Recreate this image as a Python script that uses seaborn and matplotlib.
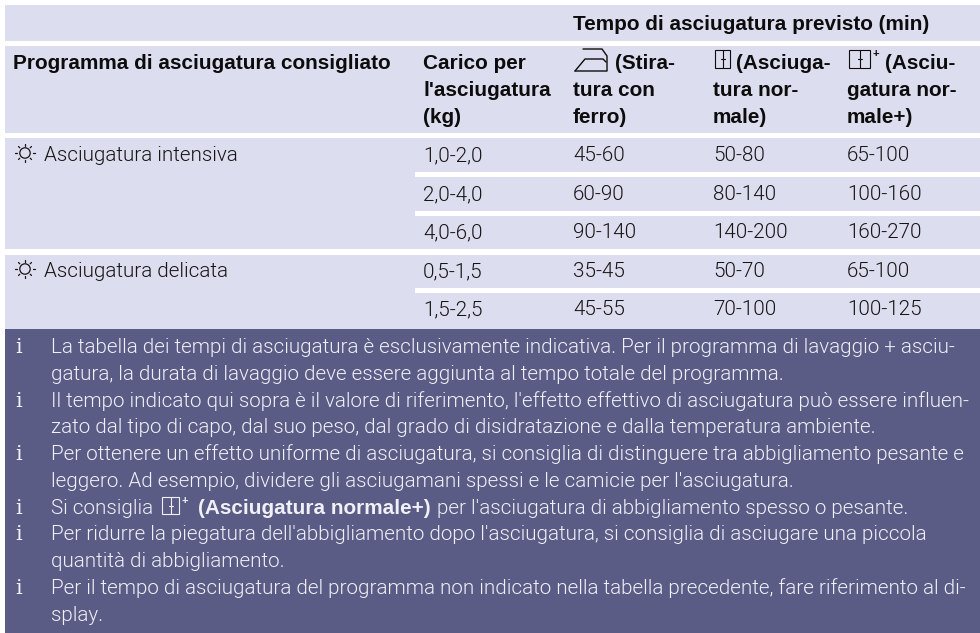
import matplotlib
matplotlib.use("Agg")
import matplotlib.pyplot as plt
from matplotlib.patches import Circle, Rectangle
import seaborn as sns

# table content
top_header = "Tempo di asciugatura previsto (min)"
program_header = "Programma di asciugatura consigliato"
load_header = ["Carico per", "l'asciugatura", "(kg)"]
iron_header = ["(Stira-", "tura con", "ferro)"]
normal_header = ["(Asciuga-", "tura nor-", "male)"]
plus_header = ["(Asciu-", "gatura nor-", "male+)"]

programs = ["Asciugatura intensiva", "", "", "Asciugatura delicata", ""]
loads = ["1,0-2,0", "2,0-4,0", "4,0-6,0", "0,5-1,5", "1,5-2,5"]
iron_times = ["45-60", "60-90", "90-140", "35-45", "45-55"]
normal_times = ["50-80", "80-140", "140-200", "50-70", "70-100"]
plus_times = ["65-100", "100-160", "160-270", "65-100", "100-125"]

notes = [
    ("i", "La tabella dei tempi di asciugatura è esclusivamente indicativa. Per il programma di lavaggio + asciu-"),
    ("", "gatura, la durata di lavaggio deve essere aggiunta al tempo totale del programma."),
    ("i", "Il tempo indicato qui sopra è il valore di riferimento, l'effetto effettivo di asciugatura può essere influen-"),
    ("", "zato dal tipo di capo, dal suo peso, dal grado di disidratazione e dalla temperatura ambiente."),
    ("i", "Per ottenere un effetto uniforme di asciugatura, si consiglia di distinguere tra abbigliamento pesante e"),
    ("", "leggero. Ad esempio, dividere gli asciugamani spessi e le camicie per l'asciugatura."),
    ("i", None),
    ("i", "Per ridurre la piegatura dell'abbigliamento dopo l'asciugatura, si consiglia di asciugare una piccola"),
    ("", "quantità di abbigliamento."),
    ("i", "Per il tempo di asciugatura del programma non indicato nella tabella precedente, fare riferimento al di-"),
    ("", "splay."),
]
note_special = ["Si consiglia", "(Asciugatura normale+)", "per l'asciugatura di abbigliamento spesso o pesante."]

LIGHT = "#dcddee"
DARK = "#5a5c86"
INK = "#151515"
HEAD_INK = "#0c0c0c"
NOTE_TEXT = "#f0f0f6"
BOLD_FONT = "Liberation Sans"
BODY_FONT = "Roboto"
BODY_SIZE = 14.9
HEAD_SIZE = 14.95

col_x = [423, 573, 713, 847]
row_base = [161, 200, 238, 277, 315]
note_base = [353, 380, 407, 433, 460, 487, 514, 540, 567, 594, 621]

sns.set_theme(style="white")
plt.rcParams["font.family"] = [BODY_FONT, "DejaVu Sans"]

fig = plt.figure(figsize=(9.8, 6.33), dpi=100)
ax = fig.add_axes([0, 0, 1, 1])
ax.set_xlim(0, 980)
ax.set_ylim(633, 0)
ax.axis("off")


def band(x0, x1, y0, y1, color):
    ax.add_patch(Rectangle((x0, y0), x1 - x0, y1 - y0, fc=color, ec="none"))


def sun(cx, cy):
    ax.add_patch(Circle((cx, cy), 5.2, fc="none", ec=INK, lw=0.9))
    for dx, dy in [(0, -9), (0, 9), (-10, 0), (10, 0), (-6.5, -6.5), (6.5, -6.5), (6.5, 6.5), (-6.5, 6.5)]:
        ax.plot([cx + dx * 0.8, cx + dx], [cy + dy * 0.8, cy + dy], color=INK, lw=0.9)


def iron(x, y):
    ax.plot([x, x + 10, x + 28, x + 31], [y + 23, y + 11, y + 11, y + 14], color=HEAD_INK, lw=1.0)
    ax.plot([x + 8, x + 27, x + 32, x + 32, x], [y + 1, y + 1, y + 8, y + 23, y + 23], color=HEAD_INK, lw=1.0)


def dry_icon(x, y, w, h, color, plus=False):
    ax.add_patch(Rectangle((x, y), w, h, fc="none", ec=color, lw=0.8))
    ax.plot([x + w / 2, x + w / 2], [y, y + h], color=color, lw=0.8)
    ax.plot([x + w / 2 - 2, x + w / 2 + 2], [y + h / 2, y + h / 2], color=color, lw=0.8)
    if plus:
        ax.text(x + w + 2, y + 7, "+", fontsize=8, family=BOLD_FONT, weight="bold", color=color, va="baseline")


def label(x, y, s, weight=300, color=INK, size=BODY_SIZE, family=BODY_FONT):
    return ax.text(x, y, s, fontsize=size, family=family, weight=weight, color=color, va="baseline", ha="left")


def head(x, y, s):
    return label(x, y, s, weight="bold", size=HEAD_SIZE, family=BOLD_FONT, color=HEAD_INK)


def right_edge(t):
    box = t.get_window_extent(fig.canvas.get_renderer())
    return ax.transData.inverted().transform(box.get_points())[1, 0]


# light bands
band(5, 980, 5, 41, LIGHT)
band(5, 980, 46, 133, LIGHT)
band(5, 980, 138, 329, LIGHT)
band(5, 980, 249, 255, "white")
for y in [172, 210.5, 288]:
    band(415, 980, y, y + 5, "white")
band(5, 980, 329, 633, DARK)

head(col_x[1], 30, top_header)
head(13, 69, program_header)
for i, y in enumerate([69, 96, 123]):
    head(col_x[0], y, load_header[i])
    # the first line of these columns starts after its icon
    head(615 if i == 0 else col_x[1], y, iron_header[i])
    head(736 if i == 0 else col_x[2], y, normal_header[i])
    head(885 if i == 0 else col_x[3], y, plus_header[i])

iron(575, 48)
dry_icon(715, 50, 15, 18, HEAD_INK)
dry_icon(849, 50, 21, 18, HEAD_INK, plus=True)

for i in range(len(loads)):
    y = row_base[i]
    if programs[i]:
        sun(25, y - 8)
        label(44, y, programs[i])
    label(col_x[0], y, loads[i])
    label(col_x[1], y, iron_times[i])
    label(col_x[2], y, normal_times[i])
    label(col_x[3], y, plus_times[i])

for (mark, line), y in zip(notes, note_base):
    if mark:
        ax.text(19, y, mark, fontsize=15, family="DejaVu Serif", color=NOTE_TEXT, ha="center", va="baseline")
    if line is not None:
        label(51, y, line, color=NOTE_TEXT)

# the one note line that mixes an icon and bold text
y = note_base[6]
x = right_edge(label(51, y, note_special[0], color=NOTE_TEXT))
dry_icon(x + 9, y - 17, 17, 17, NOTE_TEXT, plus=True)
t = label(x + 45, y, note_special[1], weight="bold", color=NOTE_TEXT, size=HEAD_SIZE, family=BOLD_FONT)
label(right_edge(t) + 6, y, note_special[2], color=NOTE_TEXT)

fig.savefig("out.png", dpi=100)
